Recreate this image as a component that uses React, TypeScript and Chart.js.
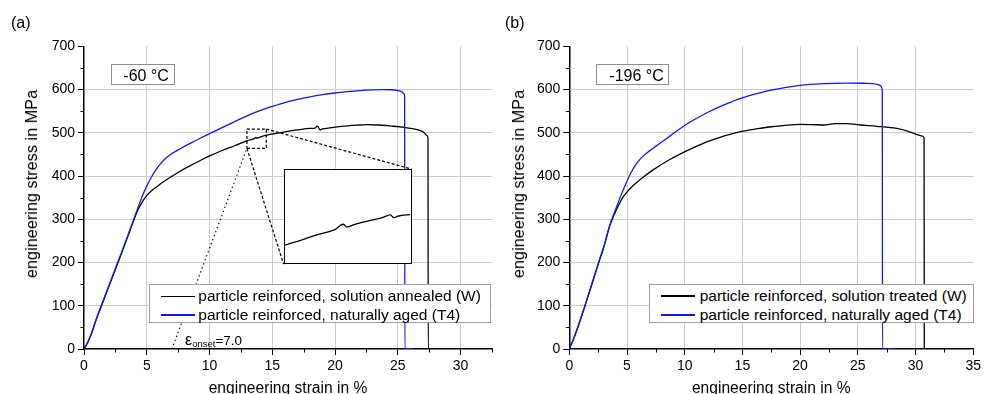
import React, { useEffect, useRef } from 'react';
import { Chart, registerables } from 'chart.js';

Chart.register(...registerables);

const FONT = "'Liberation Sans', Arial, Helvetica, sans-serif";
const BLUE = '#1414ff';
const GRID = '#cccccc';

// ---------- Panel (a): -60 °C ----------
const aStrainW = [0, 0.3, 0.6, 1.0, 1.5, 2.0, 2.5, 3.0, 3.5, 3.94, 4.3, 4.6, 4.9, 5.2, 5.6, 6.0, 6.6, 7.66, 8.6, 9.26, 10.05, 11.0, 12.0, 13.0, 13.6, 13.7, 13.78, 14.0, 15.0, 16.0, 17.0, 18.0, 18.45, 18.55, 18.65, 18.8, 19.0, 20.0, 21.0, 22.0, 22.55, 23.5, 24.5, 25.5, 26.3, 26.8, 27.1, 27.3, 27.4, 27.42, 28.5];
const aStressW = [0, 15, 36, 70, 108, 146, 184, 222, 261, 296, 322, 338, 351, 361, 371, 380, 392, 411, 426, 436, 447, 459, 470, 482, 487, 489.5, 487.5, 490, 497, 502, 506.5, 510, 511.5, 515.5, 514, 507, 509, 513, 516, 518, 519, 518, 515.5, 512.5, 509, 505, 500, 494, 487, 0, 0];
const aStrainT4 = [0, 0.3, 0.6, 1.0, 1.5, 2.0, 2.5, 3.0, 3.5, 3.94, 4.4, 4.8, 5.1, 5.4, 5.7, 6.0, 6.33, 6.86, 7.66, 8.5, 9.3, 10.0, 11.0, 12.0, 13.0, 14.0, 15.0, 16.0, 17.0, 18.0, 19.0, 20.0, 21.0, 22.0, 23.0, 23.8, 24.5, 25.0, 25.3, 25.5, 25.54, 25.56, 26.1];
const aStressT4 = [0, 16, 37, 71, 110, 148, 186, 224, 263, 298, 335, 364, 383, 399, 413, 425, 436, 449, 463, 476, 488, 498, 512, 526, 539, 551, 561, 570, 577, 583, 588, 592, 595, 597.5, 599.2, 600, 599.5, 597.5, 595, 590, 584, 0, 0];

// ---------- Panel (b): -196 °C ----------
const bStrainW = [0, 0.34, 0.7, 1.34, 2.0, 2.63, 3.0, 3.49, 3.9, 4.3, 4.6, 4.9, 5.34, 5.8, 6.34, 7.2, 8.63, 10.63, 12.34, 14.91, 16.34, 17.5, 18.5, 20.0, 21.0, 22.1, 23.0, 24.1, 25.2, 26.66, 28.37, 29.3, 30.0, 30.5, 30.74, 30.76];
const bStressW = [0, 21, 47, 98, 153, 206, 236, 283, 311, 334, 349, 360, 373, 384, 396, 413, 437, 464, 483, 503, 509.5, 514, 516.5, 519.5, 519, 518, 521, 521, 518, 515, 510, 504, 497, 493, 489, 0];
const bStrainT4 = [0, 0.34, 0.7, 1.34, 2.0, 2.63, 3.0, 3.49, 4.0, 4.5, 4.9, 5.2, 5.5, 5.8, 6.1, 6.4, 6.8, 7.3, 7.77, 8.8, 10.06, 11.0, 12.06, 13.0, 14.0, 14.91, 16.34, 17.5, 20.0, 22.0, 24.1, 25.5, 26.66, 27.0, 27.1, 27.12, 27.14, 28.2];
const bStressT4 = [0, 22, 48, 99, 155, 208, 238, 285, 322, 357, 382, 400, 415, 428, 438, 446, 455, 465, 474, 494, 518, 533, 548, 560, 571, 580, 591, 598.5, 609.5, 613.5, 615, 614.5, 612, 608, 603, 596, 0, 0];

// ---------- Inset (magnified part of panel (a) W curve) ----------
const insetStrain = [12.98, 13.18, 13.38, 13.5, 13.6, 13.66, 13.7, 13.74, 13.77, 13.86, 14.06, 14.18, 14.28, 14.32, 14.38, 14.52];
const insetStress = [472.2, 474.6, 477.3, 478.5, 479.8, 481.7, 482.3, 480.9, 481.2, 482.5, 484.4, 485.5, 486.8, 485.5, 486.3, 487.0];
const zoomBox = { x0: 12.98, x1: 14.52, y0: 464, y1: 508.6 };
const insetBox = { x0: 15.9, x1: 26.1, y0: 196, y1: 416 };
const onsetStrain = 7.0;

// ---------- Axes ----------
const yTicks = [0, 100, 200, 300, 400, 500, 600, 700];
const xTicksA = [0, 5, 10, 15, 20, 25, 30];
const xTicksB = [0, 5, 10, 15, 20, 25, 30, 35];
const xMaxA = 32.5;
const xMaxB = 35;
const yMax = 700;

const zip = (xs: number[], ys: number[]) => xs.map((x, i) => ({ x, y: ys[i] }));
const minorOf = (ticks: number[], half: number, max: number) =>
  ticks.map((v) => v + half).filter((v) => v <= max + 1e-9);

function minorPlugin(xMinor: number[], yMinor: number[]) {
  return {
    id: 'minorTicks',
    afterDraw(chart: any) {
      const ctx = chart.ctx;
      const xs = chart.scales.x;
      const ys = chart.scales.y;
      ctx.save();
      ctx.strokeStyle = '#000';
      ctx.lineWidth = 1;
      ctx.beginPath();
      xMinor.forEach((v) => {
        const px = Math.round(xs.getPixelForValue(v)) + 0.5;
        ctx.moveTo(px, xs.top);
        ctx.lineTo(px, xs.top + 3.5);
      });
      yMinor.forEach((v) => {
        const py = Math.round(ys.getPixelForValue(v)) + 0.5;
        ctx.moveTo(ys.right, py);
        ctx.lineTo(ys.right - 3.5, py);
      });
      ctx.stroke();
      ctx.restore();
    },
  };
}

function xScale(max: number, ticks: number[], title: string) {
  return {
    type: 'linear',
    min: 0,
    max,
    afterBuildTicks: (s: any) => {
      s.ticks = ticks.map((v) => ({ value: v }));
    },
    afterFit: (s: any) => {
      s.height = 45;
    },
    grid: {
      color: (c: any) => (c.tick && c.tick.value > 0 && c.tick.value < max ? GRID : 'rgba(0,0,0,0)'),
      tickColor: '#000',
      tickLength: 6,
      lineWidth: 1,
    },
    border: { display: true, color: '#000', width: 1.5 },
    ticks: { color: '#000', font: { size: 14, family: FONT }, padding: 3, maxRotation: 0, autoSkip: false },
    title: {
      display: true,
      text: title,
      color: '#000',
      font: { size: 15.6, family: FONT, lineHeight: 0.64 },
      padding: 0,
    },
  };
}

function yScale(width: number) {
  return {
    type: 'linear',
    min: 0,
    max: yMax,
    afterBuildTicks: (s: any) => {
      s.ticks = yTicks.map((v) => ({ value: v }));
    },
    afterFit: (s: any) => {
      s.width = width;
    },
    grid: {
      color: (c: any) => (c.tick && c.tick.value > 0 && c.tick.value < yMax ? GRID : 'rgba(0,0,0,0)'),
      tickColor: '#000',
      tickLength: 6,
      lineWidth: 1,
    },
    border: { display: true, color: '#000', width: 1.5 },
    ticks: { color: '#000', font: { size: 14, family: FONT }, padding: 3, autoSkip: false },
    title: { display: false },
  };
}

const curve = (data: any[], color: string) => ({
  data,
  borderColor: color,
  borderWidth: 1.3,
  pointRadius: 0,
  fill: false,
  cubicInterpolationMode: 'monotone',
});

const guide = (data: any[], dash: number[]) => ({
  data,
  borderColor: '#000',
  borderWidth: 1.2,
  borderDash: dash,
  pointRadius: 0,
  fill: false,
  tension: 0,
});

function Text(props: { x: number; base: number; size: number; children: any; style?: any }) {
  const { x, base, size, children, style } = props;
  return (
    <div
      style={{
        position: 'absolute',
        left: x,
        top: base - 0.8465 * size,
        fontSize: size,
        lineHeight: `${size}px`,
        fontFamily: FONT,
        color: '#000',
        whiteSpace: 'nowrap',
        ...style,
      }}
    >
      {children}
    </div>
  );
}

function Sample(props: { x0: number; x1: number; y: number; color: string }) {
  return (
    <div
      style={{
        position: 'absolute',
        left: props.x0,
        top: props.y - 0.75,
        width: props.x1 - props.x0,
        height: 1.5,
        background: props.color,
      }}
    />
  );
}

function Box(props: { l: number; t: number; w: number; h: number; border: string }) {
  return (
    <div
      style={{
        position: 'absolute',
        left: props.l,
        top: props.t,
        width: props.w,
        height: props.h,
        border: props.border,
        background: '#fff',
        boxSizing: 'border-box',
      }}
    />
  );
}

export default function App() {
  const refA = useRef<HTMLCanvasElement>(null);
  const refB = useRef<HTMLCanvasElement>(null);
  const refInset = useRef<HTMLCanvasElement>(null);
  const refInsetBox = useRef<HTMLDivElement>(null);

  useEffect(() => {
    Chart.defaults.font.family = FONT;
    const common = {
      responsive: false,
      animation: false,
      devicePixelRatio: 1,
      plugins: { legend: { display: false }, tooltip: { enabled: false } },
    };

    const a = new Chart(refA.current as HTMLCanvasElement, {
      type: 'line',
      data: {
        datasets: [
          curve(zip(aStrainT4, aStressT4), BLUE),
          curve(zip(aStrainW, aStressW), '#000'),
          guide(
            [
              { x: zoomBox.x0, y: zoomBox.y0 },
              { x: zoomBox.x1, y: zoomBox.y0 },
              { x: zoomBox.x1, y: zoomBox.y1 },
              { x: zoomBox.x0, y: zoomBox.y1 },
              { x: zoomBox.x0, y: zoomBox.y0 },
            ],
            [3, 2]
          ),
          guide([{ x: zoomBox.x1, y: zoomBox.y1 }, { x: insetBox.x1, y: insetBox.y1 }], [3, 2]),
          guide([{ x: zoomBox.x0, y: zoomBox.y0 }, { x: insetBox.x0, y: insetBox.y0 }], [3, 2]),
          guide([{ x: onsetStrain, y: 0 }, { x: zoomBox.x0, y: zoomBox.y0 }], [1.3, 3]),
        ] as any,
      },
      options: {
        ...common,
        layout: { padding: { left: 0, right: 8, top: 46.3, bottom: 0 }, autoPadding: false },
        scales: {
          x: xScale(xMaxA, xTicksA, 'engineering strain in %'),
          y: yScale(84),
        },
      } as any,
      plugins: [minorPlugin(minorOf(xTicksA, 2.5, xMaxA), minorOf(yTicks, 50, yMax))],
    });

    const b = new Chart(refB.current as HTMLCanvasElement, {
      type: 'line',
      data: {
        datasets: [curve(zip(bStrainT4, bStressT4), BLUE), curve(zip(bStrainW, bStressW), '#000')] as any,
      },
      options: {
        ...common,
        layout: { padding: { left: 0, right: 5.4, top: 46.3, bottom: 0 }, autoPadding: false },
        scales: {
          x: xScale(xMaxB, xTicksB, 'engineering strain in %'),
          y: yScale(69.3),
        },
      } as any,
      plugins: [minorPlugin(minorOf(xTicksB, 2.5, xMaxB), minorOf(yTicks, 50, yMax))],
    });

    // Inset placed over panel (a) using its scales
    const xs: any = a.scales.x;
    const ys: any = a.scales.y;
    const l = xs.getPixelForValue(insetBox.x0);
    const r = xs.getPixelForValue(insetBox.x1);
    const t = ys.getPixelForValue(insetBox.y1);
    const bt = ys.getPixelForValue(insetBox.y0);
    const boxEl = refInsetBox.current as HTMLDivElement;
    boxEl.style.left = `${l}px`;
    boxEl.style.top = `${t}px`;
    boxEl.style.width = `${r - l}px`;
    boxEl.style.height = `${bt - t}px`;
    boxEl.style.display = 'block';
    const cv = refInset.current as HTMLCanvasElement;
    cv.width = Math.round(r - l - 3);
    cv.height = Math.round(bt - t - 3);
    const ins = new Chart(cv, {
      type: 'line',
      data: { datasets: [curve(zip(insetStrain, insetStress), '#000')] as any },
      options: {
        ...common,
        layout: { padding: 0, autoPadding: false },
        scales: {
          x: { type: 'linear', display: false, min: zoomBox.x0, max: zoomBox.x1 },
          y: { type: 'linear', display: false, min: zoomBox.y0, max: zoomBox.y1 },
        },
      } as any,
    });

    return () => {
      a.destroy();
      b.destroy();
      ins.destroy();
    };
  }, []);

  return (
    <div style={{ position: 'absolute', left: 0, top: 0, width: 984, height: 394, background: '#fff', overflow: 'hidden' }}>
      <canvas ref={refA} width={500} height={394} style={{ position: 'absolute', left: 0, top: 0 }} />
      <canvas ref={refB} width={484} height={394} style={{ position: 'absolute', left: 500, top: 0 }} />

      {/* panel labels */}
      <Text x={11} base={28.3} size={16}>(a)</Text>
      <Text x={505} base={28.3} size={16}>(b)</Text>

      {/* y axis titles */}
      {[31, 517.5].map((cx) => (
        <div
          key={cx}
          style={{
            position: 'absolute',
            left: cx,
            top: 184,
            transform: 'translate(-50%, -50%) rotate(-90deg)',
            fontSize: 16.3,
            lineHeight: '18px',
            fontFamily: FONT,
            color: '#000',
            whiteSpace: 'nowrap',
          }}
        >
          engineering stress in MPa
        </div>
      ))}

      {/* temperature labels */}
      <Box l={111} t={64} w={64} h={20.5} border="1px solid #8c8c8c" />
      <Text x={123.3} base={81.7} size={16}>-60 °C</Text>
      <Box l={596} t={64} w={73.3} h={20.5} border="1px solid #8c8c8c" />
      <Text x={609.3} base={81.7} size={16}>-196 °C</Text>

      {/* inset */}
      <div
        ref={refInsetBox}
        style={{ position: 'absolute', display: 'none', border: '1.5px solid #000', background: '#fff', boxSizing: 'border-box' }}
      >
        <canvas ref={refInset} style={{ display: 'block' }} />
      </div>

      {/* onset label */}
      <Text x={185} base={344.5} size={13.5}>
        <span style={{ fontSize: 16 }}>ε</span>
        <span style={{ fontSize: 9.5, position: 'relative', top: 2.3 }}>onset</span>=7.0
      </Text>

      {/* legend (a) */}
      <Box l={148.7} t={284.3} w={342.5} h={38.6} border="1px solid #a0a0a0" />
      <Sample x0={160.7} x1={195} y={296.7} color="#000" />
      <Text x={198.3} base={301.2} size={15.5}>particle reinforced, solution annealed (W)</Text>
      <Sample x0={160.7} x1={195} y={315.2} color={BLUE} />
      <Text x={198.3} base={319.8} size={15.5}>particle reinforced, naturally aged (T4)</Text>

      {/* legend (b) */}
      <Box l={649} t={284.3} w={324.5} h={39} border="1px solid #a0a0a0" />
      <Sample x0={661} x1={695} y={296.2} color="#000" />
      <Text x={699.7} base={300.8} size={15.5}>particle reinforced, solution treated (W)</Text>
      <Sample x0={661} x1={695} y={315.2} color={BLUE} />
      <Text x={699.7} base={319.8} size={15.5}>particle reinforced, naturally aged (T4)</Text>
    </div>
  );
}
